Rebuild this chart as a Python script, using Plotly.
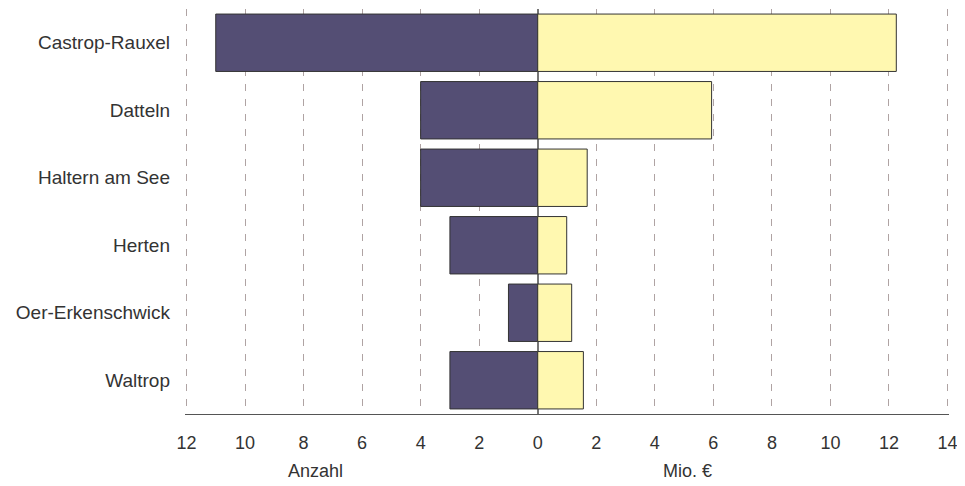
import plotly.graph_objects as go

staedte = ["Castrop-Rauxel", "Datteln", "Haltern am See", "Herten", "Oer-Erkenschwick", "Waltrop"]
anzahl = [11, 4, 4, 3, 1, 3]
mio_euro = [12.25, 5.94, 1.69, 0.99, 1.16, 1.56]
tick_vals = list(range(-12, 15, 2))
tick_text = [str(abs(v)) for v in tick_vals]

fig = go.Figure()
fig.add_trace(go.Bar(
    y=staedte, x=[-a for a in anzahl], orientation="h", name="Anzahl",
    marker=dict(color="#544E74", line=dict(color="#333333", width=1)),
))
fig.add_trace(go.Bar(
    y=staedte, x=mio_euro, orientation="h", name="Mio. €",
    marker=dict(color="#FFF8B0", line=dict(color="#333333", width=1)),
))

# page body has an 8px default margin; figure size compensates for it
fig.update_layout(
    width=957, height=478,
    margin=dict(l=177, r=16, t=1, b=72),
    barmode="overlay", bargap=0.15,
    showlegend=False,
    plot_bgcolor="white", paper_bgcolor="white",
    font=dict(family="Liberation Sans, Arial, sans-serif", size=18, color="#333333"),
    xaxis=dict(
        range=[-12.05, 14.05], tickvals=tick_vals, ticktext=tick_text,
        showgrid=True, gridcolor="#AFA3A3", griddash="7px,8px", gridwidth=1,
        zeroline=True, zerolinecolor="#777777", zerolinewidth=1.5,
        showline=True, linecolor="#555555", linewidth=1,
        ticks="", ticklabelstandoff=12, tickfont=dict(size=18),
    ),
    yaxis=dict(
        autorange="reversed", showgrid=False, zeroline=False,
        showline=False, ticks="", ticklabelstandoff=14, tickfont=dict(size=19),
    ),
    annotations=[
        dict(text="Anzahl", x=-7.6, y=-0.141, xref="x", yref="paper",
             showarrow=False, xanchor="center", yanchor="middle",
             font=dict(size=18, color="#333333")),
        dict(text="Mio. €", x=5.1, y=-0.141, xref="x", yref="paper",
             showarrow=False, xanchor="center", yanchor="middle",
             font=dict(size=18, color="#333333")),
    ],
)

fig.write_html("out.html")
